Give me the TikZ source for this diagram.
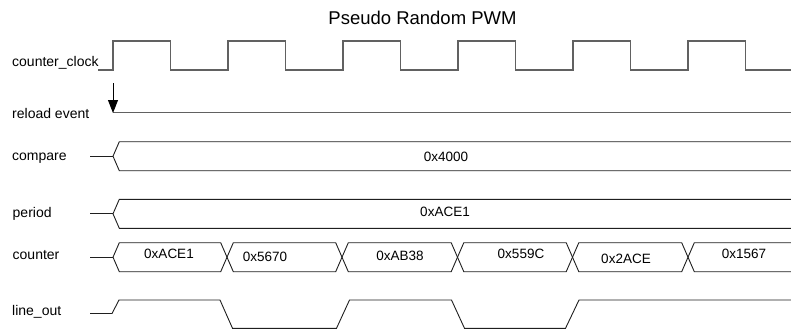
\documentclass[tikz,border=0pt]{standalone}
\usepackage{fontspec}
\setmainfont{Liberation Sans}
\usetikzlibrary{arrows.meta}
\tikzset{
  lbl/.style={anchor=base west, inner sep=0pt, font=\fontsize{14}{16}\selectfont},
  val/.style={anchor=center, inner sep=0pt, font=\fontsize{13.5}{16}\selectfont},
  clk/.style={draw=black!62, line width=1.3pt},
  bus/.style={draw=black!88, line width=0.9pt},
}
\begin{document}
\begin{tikzpicture}[x=1pt,y=-1pt]
\useasboundingbox (0,0) rectangle (791,329);
% title
\node[anchor=center, inner sep=0pt, font=\fontsize{18.5}{20}\selectfont] (title) at (422.5,18.3) {Pseudo Random PWM};
% labels
\node[lbl] (lclk) at (12,66.7) {counter\_clock};
\node[lbl] (lrel) at (12,118.5) {reload event};
\node[lbl] (lcmp) at (12,160) {compare};
\node[lbl] (lper) at (12.5,217) {period};
\node[lbl] (lcnt) at (12.5,259.3) {counter};
\node[lbl] (lout) at (12,315) {line\_out};
% counter clock
\draw[clk] (98,70) -- (113,70) -- (113,41) -- (170.5,41) -- (170.5,70)
  -- (228,70) -- (228,41) -- (285.5,41) -- (285.5,70)
  -- (343,70) -- (343,41) -- (400.5,41) -- (400.5,70)
  -- (458,70) -- (458,41) -- (515.5,41) -- (515.5,70)
  -- (573,70) -- (573,41) -- (630.5,41) -- (630.5,70)
  -- (688,70) -- (688,41) -- (745.5,41) -- (745.5,70) -- (791,70);
% reload event
\coordinate (rtop) at (113,83);
\coordinate (rtip) at (113,113);
\draw[clk] (113,112.7) -- (791,112.7);
\draw[line width=0.9pt, -{Triangle[length=13pt,width=10pt]}] (rtop) -- (rtip);
% compare
\draw[bus] (90,156.2) -- (113,156.2);
\draw[bus] (791,141.7) -- (119.3,141.7) -- (113,156.2) -- (119.3,170.7) -- (791,170.7);
\node[val] (vcmp) at (446,156.5) {0x4000};
% period
\draw[bus] (90,213.8) -- (113,213.8);
\draw[bus] (791,199.3) -- (119.3,199.3) -- (113,213.8) -- (119.3,228.3) -- (791,228.3);
\node[val] (vper) at (445,211.7) {0xACE1};
% counter
\draw[bus] (90,257.2) -- (113,257.2);
\draw[bus] (113,257.2) -- (119.3,242.7) -- (220.7,242.7) -- (233.3,271.7) -- (335.7,271.7) -- (348.3,242.7)
  -- (451.2,242.7) -- (463.8,271.7) -- (566.2,271.7) -- (578.8,242.7) -- (681.7,242.7) -- (694.3,271.7) -- (791,271.7);
\draw[bus] (113,257.2) -- (119.3,271.7) -- (220.7,271.7) -- (233.3,242.7) -- (335.7,242.7) -- (348.3,271.7)
  -- (451.2,271.7) -- (463.8,242.7) -- (566.2,242.7) -- (578.8,271.7) -- (681.7,271.7) -- (694.3,242.7) -- (791,242.7);
\node[val] (c1) at (169,253.8) {0xACE1};
\node[val] (c2) at (265,257) {0x5670};
\node[val] (c3) at (400,255.5) {0xAB38};
\node[val] (c4) at (521,253.8) {0x559C};
\node[val] (c5) at (626,258.5) {0x2ACE};
\node[val] (c6) at (744,253.8) {0x1567};
% line_out
\draw[bus] (90,313.5) -- (112,313.5) -- (119,300) -- (220,300) -- (232.5,328.3) -- (336.5,328.3) -- (349.5,300)
  -- (451.5,300) -- (464.5,328.3) -- (565.5,328.3) -- (579,300) -- (791,300);
\end{tikzpicture}
\end{document}
